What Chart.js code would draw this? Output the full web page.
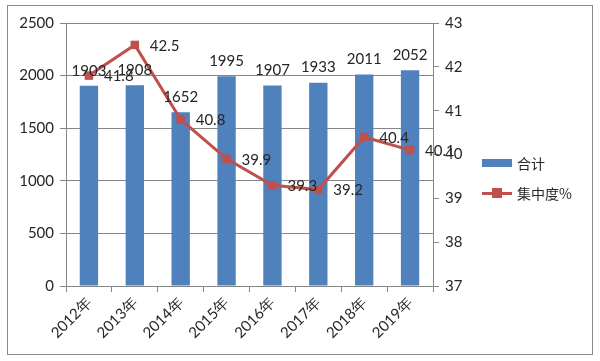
<!DOCTYPE html>
<html><head><meta charset="utf-8">
<script src="https://cdn.jsdelivr.net/npm/chart.js@4"></script>
<style>
html,body{margin:0;padding:0;background:#fff;}
#wrap{position:relative;width:600px;height:361px;}
#frame{position:absolute;left:7px;top:5px;width:586px;height:350px;border:1px solid #8c8c8c;box-sizing:border-box;pointer-events:none;}
#legend{position:absolute;left:482px;top:148px;font-family:"Noto Sans CJK SC",sans-serif;font-size:14px;color:#262626;}
.li{display:flex;align-items:center;height:30px;}
.sw{width:30px;height:8px;background:#4F81BD;margin-right:5px;}
.ln{position:relative;width:30px;height:3px;background:#C0504D;margin-right:5px;}
.ln i{position:absolute;left:10px;top:-4px;width:10px;height:10px;background:#C0504D;}
</style></head>
<body><div id="wrap"><canvas id="c" width="600" height="361"></canvas>
<div id="frame"></div>
<div id="legend">
<div class="li"><div class="sw"></div><span>合计</span></div>
<div class="li"><div class="ln"><i></i></div><span>集中度%</span></div>
</div></div>
<script>
const categories = ["2012年","2013年","2014年","2015年","2016年","2017年","2018年","2019年"];
const totalValues = [1903,1908,1652,1995,1907,1933,2011,2052];
const concentrationValues = [41.8,42.5,40.8,39.9,39.3,39.2,40.4,40.1];
const seriesNames = ["合计","集中度%"];

const tickFont = {family:"Lato, 'Noto Sans', sans-serif", size:15};
const labelPlugin = {
  id:'labels',
  afterDatasetsDraw(chart){
    const ctx = chart.ctx;
    ctx.save();
    ctx.font = "15px Lato, 'Noto Sans', sans-serif";
    ctx.fillStyle = "#262626";
    ctx.textBaseline='middle';
    const barMeta = chart.getDatasetMeta(1);
    ctx.textAlign='center';
    barMeta.data.forEach((el,i)=>{ ctx.fillText(String(totalValues[i]), el.x, el.y-15); });
    const lineMeta = chart.getDatasetMeta(0);
    ctx.textAlign='left';
    lineMeta.data.forEach((el,i)=>{ ctx.fillText(concentrationValues[i].toFixed(1), el.x+15, el.y+1); });
    ctx.restore();
  }
};

new Chart(document.getElementById('c'), {
  type:'bar',
  data:{
    labels:categories,
    datasets:[
      {type:'line', label:seriesNames[1], data:concentrationValues, yAxisID:'y1', borderColor:'#C0504D', backgroundColor:'#C0504D', borderWidth:3, pointStyle:'rect', pointRadius:6, pointBorderWidth:0, tension:0, order:0},
      {type:'bar', label:seriesNames[0], data:totalValues, yAxisID:'y', backgroundColor:'#4F81BD', barPercentage:0.4, categoryPercentage:1, order:1}
    ]
  },
  options:{
    responsive:false, animation:false,
    devicePixelRatio:1,
    layout:{padding:{top:23,left:0,right:0,bottom:0}},
    plugins:{legend:{display:false}, tooltip:{enabled:false}},
    scales:{
      x:{
        grid:{offset:true, drawOnChartArea:false, color:'#868686', tickLength:6},
        border:{color:'#868686'},
        ticks:{font:tickFont, color:'#262626', maxRotation:45, minRotation:45, padding:2},
        afterFit(s){ s.height = 75; }
      },
      y:{
        position:'left', min:0, max:2500,
        ticks:{stepSize:500, font:tickFont, color:'#262626', padding:6, callback:v=>String(v)},
        grid:{color:'#868686', tickLength:6},
        border:{color:'#868686'},
        afterFit(s){ s.width = 66; }
      },
      y1:{
        position:'right', min:37, max:43,
        ticks:{stepSize:1, font:tickFont, color:'#262626', padding:6, callback:v=>String(v)},
        grid:{drawOnChartArea:false, color:'#868686', tickLength:6},
        border:{color:'#868686'},
        afterFit(s){ s.width = 167; }
      }
    }
  },
  plugins:[labelPlugin]
});
</script></body></html>
